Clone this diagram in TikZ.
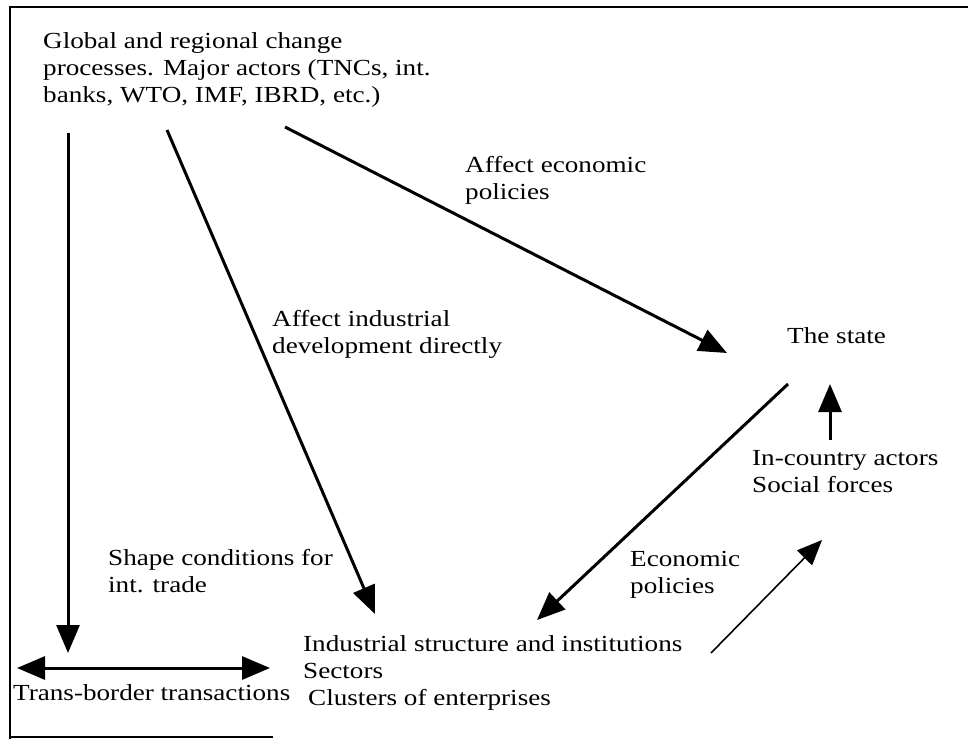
\documentclass[tikz,border=0pt]{standalone}
\usepackage{fontspec}
\setmainfont{Liberation Serif}[FakeStretch=1.18]
\usetikzlibrary{arrows.meta}
\begin{document}
\begin{tikzpicture}[x=1pt,y=-1pt,
  lbl/.style={inner sep=0pt,anchor=base west,align=left,font=\fontsize{23}{27}\selectfont},
  thick arrow/.style={line width=3pt,-{Triangle[length=28pt,width=23pt]}},
  thin arrow/.style={line width=1.6pt,-{Triangle[length=25pt,width=21pt]}},
  frameline/.style={line width=2.5pt}]
\useasboundingbox (0,0) rectangle (968,739);
% frame
\coordinate (fTR) at (968,7);
\coordinate (fTL) at (10,7);
\coordinate (fBL) at (10,739);
\coordinate (fB0) at (10,737);
\coordinate (fB1) at (273,737);
\draw[frameline] (fTR) -- (fTL) -- (fBL);
\draw[line width=1.5pt] (fB0) -- (fB1);
% texts (anchored at the baseline of the last line)
\node[lbl] (global) at (43,102) {Global and regional change\\processes. Major actors (TNCs, int.\\banks, WTO, IMF, IBRD, etc.)};
\node[lbl] (affecon) at (465,199) {Affect economic\\policies};
\node[lbl] (affind) at (272,353) {Affect industrial\\development directly};
\node[lbl] (state) at (787,343) {The state};
\node[lbl] (incountry) at (752,492) {In-country actors\\Social forces};
\node[lbl] (econpol) at (630,593) {Economic\\policies};
\node[lbl] (shape) at (108,592) {Shape conditions for\\int. trade};
\node[lbl] (industrial) at (303,705) {Industrial structure and institutions\\Sectors\\\hspace*{5pt}Clusters of enterprises};
\node[lbl] (trans) at (13,700) {Trans-border transactions};
% arrow end points
\coordinate (a1s) at (68,133);  \coordinate (a1e) at (68,653);
\coordinate (a2s) at (167,130); \coordinate (a2e) at (375,614);
\coordinate (a3s) at (285,127); \coordinate (a3e) at (727,353);
\coordinate (a4s) at (788,384); \coordinate (a4e) at (537,620);
\coordinate (a5s) at (830,440); \coordinate (a5e) at (830,384);
\coordinate (a6s) at (711,653); \coordinate (a6e) at (822,540);
\coordinate (a7s) at (17,668);  \coordinate (a7e) at (270,668);
\draw[thick arrow] (a1s) -- (a1e);
\draw[thick arrow] (a2s) -- (a2e);
\draw[thick arrow] (a3s) -- (a3e);
\draw[thick arrow] (a4s) -- (a4e);
\draw[thick arrow] (a5s) -- (a5e);
\draw[thin arrow] (a6s) -- (a6e);
\draw[line width=3pt,{Triangle[length=28pt,width=23pt]}-{Triangle[length=28pt,width=23pt]}] (a7s) -- (a7e);
\end{tikzpicture}
\end{document}
